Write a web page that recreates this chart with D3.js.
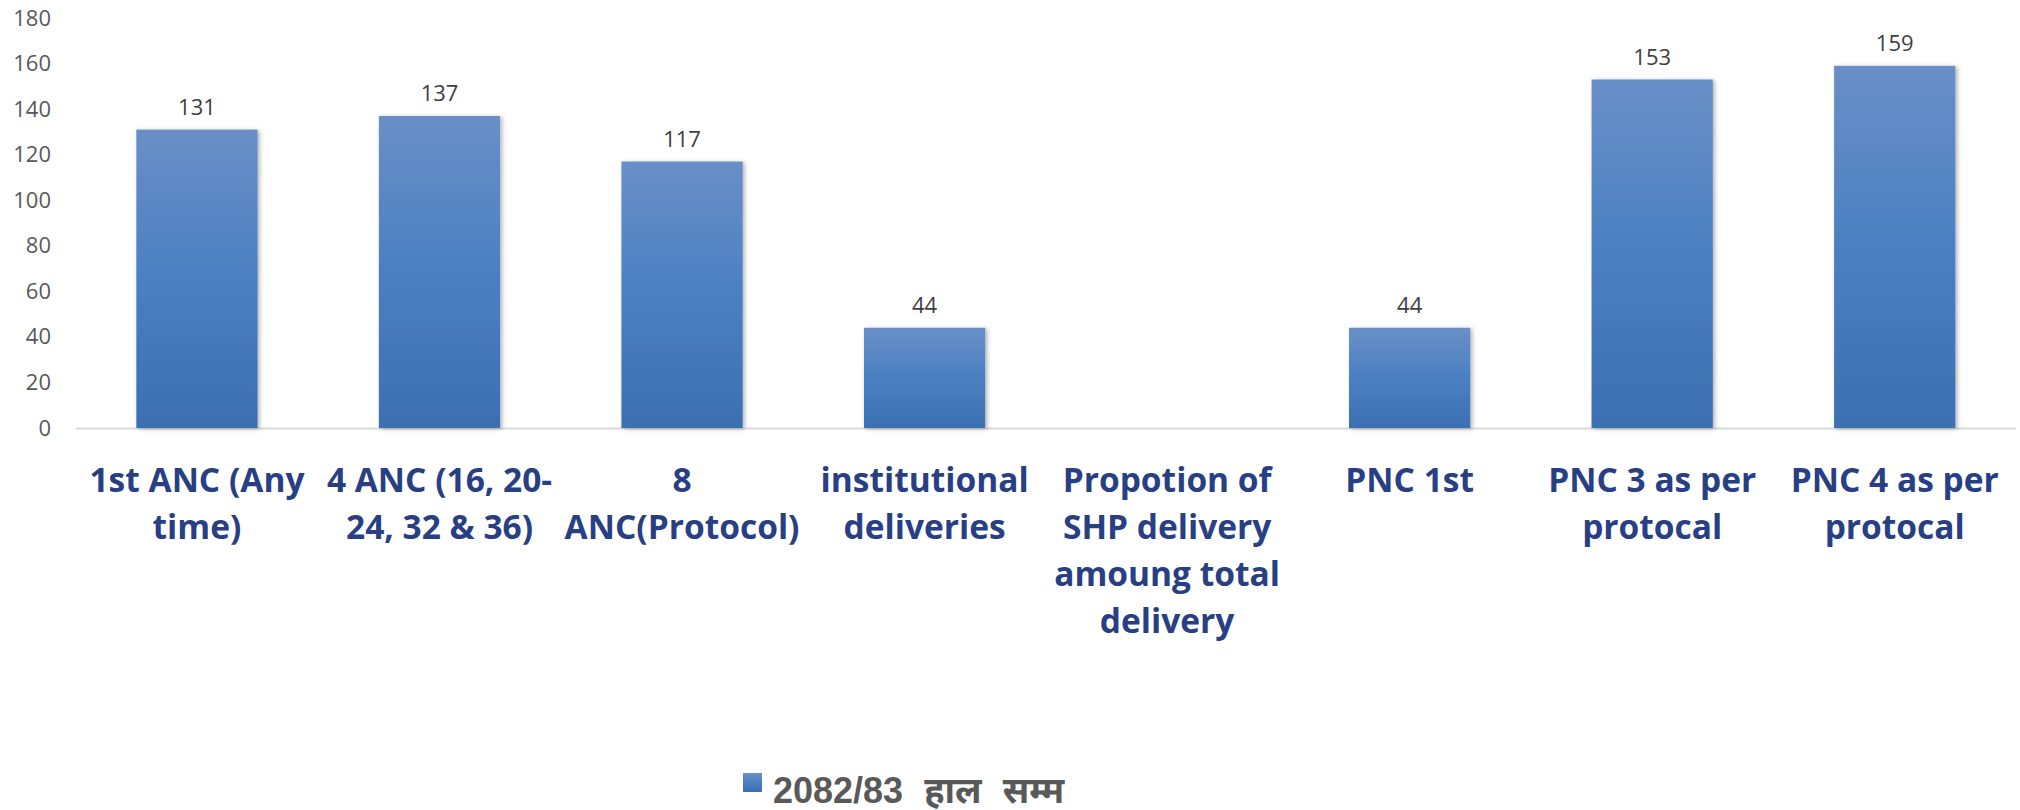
<!DOCTYPE html>
<html>
<head>
<meta charset="utf-8">
<script src="https://cdn.jsdelivr.net/npm/d3@7"></script>
<style>
  body { margin: 0; background: #fff; }
  svg { display: block; }
</style>
</head>
<body>
<svg id="chart"></svg>
<script>
const width = 2020
const height = 810

// data
const categories = [
  "1st ANC (Any time)",
  "4 ANC (16, 20-24, 32 & 36)",
  "8 ANC(Protocol)",
  "institutional deliveries",
  "Propotion of SHP delivery amoung total delivery",
  "PNC 1st",
  "PNC 3 as per protocal",
  "PNC 4 as per protocal"
];
const values = [131, 137, 117, 44, null, 44, 153, 159];
const yTicks = [0, 20, 40, 60, 80, 100, 120, 140, 160, 180];
const seriesName = "2082/83 हाल सम्म";

const svg = d3.select("#chart")
    .attr("width", width)
    .attr("height", height);

const defs = svg.append("defs");

const grad = defs.append("linearGradient")
    .attr("id", "barGrad")
    .attr("x1", 0).attr("y1", 0).attr("x2", 0).attr("y2", 1);
grad.append("stop").attr("offset", "0%").attr("stop-color", "#6a8fc7");
grad.append("stop").attr("offset", "50%").attr("stop-color", "#4a80c2");
grad.append("stop").attr("offset", "100%").attr("stop-color", "#3b6fb1");

const shadow = defs.append("filter")
    .attr("id", "shadow")
    .attr("x", "-10%").attr("y", "-10%")
    .attr("width", "130%").attr("height", "130%");
shadow.append("feDropShadow")
    .attr("dx", 2).attr("dy", 1)
    .attr("stdDeviation", 2)
    .attr("flood-color", "#000")
    .attr("flood-opacity", 0.3);

const x = d3.scaleBand()
    .domain(categories)
    .range([75.7, 2016])
    .paddingInner(0.5)
    .paddingOuter(0.25);

const y = d3.scaleLinear()
    .domain([0, 180])
    .range([428, 18]);

// y axis labels only
const yAxis = svg.append("g")
    .attr("transform", "translate(51,0)")
    .call(d3.axisLeft(y).tickValues(yTicks).tickSize(0).tickPadding(0));
yAxis.select(".domain").remove();
yAxis.selectAll("text")
    .attr("font-family", "'Open Sans', sans-serif")
    .attr("font-size", 22)
    .attr("fill", "#595959");

// baseline
svg.append("line")
    .attr("x1", x.range()[0]).attr("x2", x.range()[1])
    .attr("y1", y(0) + 0.5).attr("y2", y(0) + 0.5)
    .attr("stroke", "#d9d9d9")
    .attr("stroke-width", 2);

const data = categories.map((c, i) => ({cat: c, value: values[i]}))
    .filter(d => d.value != null);

svg.append("g")
  .selectAll("rect")
  .data(data)
  .join("rect")
    .attr("x", d => x(d.cat))
    .attr("y", d => y(d.value))
    .attr("width", x.bandwidth())
    .attr("height", d => y(0) - y(d.value))
    .attr("fill", "url(#barGrad)")
    .attr("filter", "url(#shadow)");

svg.append("g")
  .selectAll("text")
  .data(data)
  .join("text")
    .attr("x", d => x(d.cat) + x.bandwidth() / 2)
    .attr("y", d => y(d.value) - 15)
    .attr("text-anchor", "middle")
    .attr("font-family", "'Open Sans', sans-serif")
    .attr("font-size", 22)
    .attr("fill", "#404040")
    .text(d => d.value);

// category labels, wrapped like the original (breaks after spaces and hyphens)
const xAxis = svg.append("g")
    .attr("transform", `translate(0,${y(0)})`)
    .call(d3.axisBottom(x).tickSize(0).tickPadding(0));
xAxis.select(".domain").remove();
xAxis.selectAll("text")
    .attr("font-family", "'Open Sans', sans-serif")
    .attr("font-weight", "bold")
    .attr("font-size", 33.5)
    .attr("fill", "#283f84")
    .call(wrap, 236);

function wrap(sel, maxW) {
  sel.each(function() {
    const t = d3.select(this);
    const tokens = [];
    t.text().split(" ").forEach((w, wi) => {
      w.split(/(?<=-)/).forEach((p, pi) => tokens.push({s: p, sp: wi > 0 && pi === 0}));
    });
    t.text(null).attr("y", 0).attr("dy", null);
    const lines = [];
    let cur = "";
    const probe = t.append("tspan");
    tokens.forEach(tk => {
      const trial = cur === "" ? tk.s : cur + (tk.sp ? " " : "") + tk.s;
      probe.text(trial);
      if (probe.node().getComputedTextLength() > maxW && cur !== "") {
        lines.push(cur);
        cur = tk.s;
      } else {
        cur = trial;
      }
    });
    lines.push(cur);
    probe.remove();
    lines.forEach((l, i) => {
      t.append("tspan")
          .attr("x", 0)
          .attr("y", 64 + i * 47)
          .text(l);
    });
  });
}

// legend
const legend = svg.append("g");
legend.append("rect")
    .attr("x", 743).attr("y", 773)
    .attr("width", 19).attr("height", 19)
    .attr("fill", "url(#barGrad)");
legend.append("text")
    .attr("x", 773).attr("y", 803)
    .attr("font-family", "'Liberation Sans', Arial, 'Noto Sans', sans-serif")
    .attr("font-weight", "bold")
    .attr("font-size", 36)
    .attr("word-spacing", 11)
    .attr("fill", "#595959")
    .text(seriesName);
</script>
</body>
</html>
